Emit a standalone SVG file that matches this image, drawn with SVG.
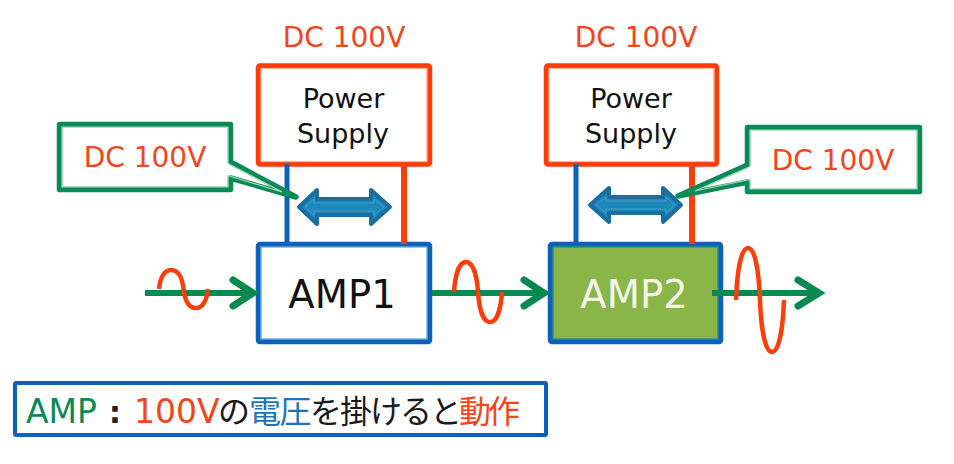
<svg xmlns="http://www.w3.org/2000/svg" width="954" height="464" viewBox="0 0 954 464">
<style>
text{font-family:"DejaVu Sans","Noto Sans CJK JP",sans-serif;text-anchor:middle}
.bx{stroke-width:5.500;stroke-linejoin:round}
.in{fill:none;stroke-width:1.200}
.r{stroke:#fb3d0a;fill:#fff}
.b{stroke:#0b62b8;fill:#fff}
.g{stroke:#0a8a55;fill:#fff}
.rt{fill:#f4441a;font-size:28px}
.pt{fill:#111;font-size:27px}
.at{font-size:38.500px}
.wave{fill:none;stroke:#fb3d0a;stroke-width:4.500}
.arr{fill:none;stroke:#08894f;stroke-width:6}
.head{fill:none;stroke:#08894f;stroke-width:7;stroke-linecap:round;stroke-linejoin:miter}
.dbl{fill:#1c87bb;stroke:#1a6e9f;stroke-width:4;stroke-linejoin:round}
.dbi{fill:none;stroke:#5aa6cf;stroke-width:1;opacity:.7}
.bt{font-size:33px;text-anchor:start}
.cj{font-size:32px}
</style>
<rect width="954" height="464" fill="#fefefe"/>
<g id="ps1"><rect class="bx r" x="258.500" y="66" width="171" height="98" rx="1.500"/><rect class="in" stroke="#ffb9a3" x="261" y="68.500" width="166" height="93"/>
<text class="pt" x="343.500" y="108">Power</text><text class="pt" x="343" y="143">Supply</text></g>
<g id="ps2"><rect class="bx r" x="546.500" y="66" width="170" height="98" rx="1.500"/><rect class="in" stroke="#ffb9a3" x="549" y="68.500" width="165" height="93"/>
<text class="pt" x="631" y="108">Power</text><text class="pt" x="631" y="143">Supply</text></g>
<g id="amp1"><rect class="bx b" x="258.500" y="244.500" width="171" height="97" rx="1.500"/><rect class="in" stroke="#7fb8e4" x="261" y="247" width="166" height="92"/>
<text class="at" x="342" y="308" fill="#111">AMP1</text></g>
<g id="amp2"><rect class="bx" stroke="#0b62b8" fill="#8ab548" x="550.500" y="244.500" width="170" height="97" rx="1.500"/><rect class="in" stroke="#2f9a86" x="553" y="247" width="165" height="92"/>
<text class="at" x="634" y="308" fill="#f3f7ea">AMP2</text></g>
<g id="connectors">
<path d="M287 164V243" fill="none" stroke="#0b62b8" stroke-width="5"/>
<path d="M404 165V244" fill="none" stroke="#fb3d0a" stroke-width="6"/>
<path d="M576 164V243" fill="none" stroke="#0b62b8" stroke-width="5"/>
<path d="M692 165V244" fill="none" stroke="#fb3d0a" stroke-width="6"/>
<path class="arr" d="M145 293H252"/><path class="head" d="M233 280L253 293L233 306"/>
<path class="arr" d="M432 293H544"/><path class="head" d="M524 280L544 293L524 306"/>
<path class="arr" d="M712 293H818"/><path class="head" d="M798 280L819 293L798 306"/>
</g>
<g id="waves">
<path class="wave" d="M159 289C160.200 277.600 164.500 270 171.200 270C178 270 182.300 277.600 183.500 289C184.700 300.400 189 308 195.800 308C202.600 308 206.800 300.400 208 289"/>
<path class="wave" d="M454 292C455.200 274 459.400 262 466 262C472.600 262 476.800 274 478 292C479.200 310 483.400 322 490 322C496.600 322 500.800 310 502 292"/>
<path class="wave" d="M736 300C737.200 268.800 741.400 248 748 248C754.600 248 758.800 268.800 760 300C761.200 331.200 765.400 352 772 352C778.600 352 782.800 331.200 784 300"/>
</g>
<g id="double-arrow1"><path class="dbl" d="M299 207L317 190V199H371V190L390 207L371 224V215H317V224Z"/><path class="dbi" d="M305 207L314 199V203H374V199L384 207L374 215V211H314V215Z"/></g>
<g id="double-arrow2"><path class="dbl" d="M590 205L609 188V197H663V188L681 205L663 222V213H609V222Z"/><path class="dbi" d="M596 205L606 197V201H666V197L675 205L666 213V209H606V213Z"/></g>
<g id="callout1"><path class="bx g" d="M59.500 124.500H230.500V162L296 197L230.500 178V189.500H59.500Z"/><path class="in" stroke="#a8dcc0" d="M62 127H228V163.500L282 192L228 175.500V187H62Z"/>
<text class="rt" x="145" y="167">DC 100V</text></g>
<g id="callout2"><path class="bx g" d="M919.500 127.500H747.500V165L678 196L747.500 182V191.500H919.500Z"/><path class="in" stroke="#a8dcc0" d="M917 130H750V166.500L695 191L750 179.500V189H917Z"/>
<text class="rt" x="833" y="170">DC 100V</text></g>
<g id="label1"><text class="rt" x="344" y="47">DC 100V</text></g>
<g id="label2"><text class="rt" x="636" y="47">DC 100V</text></g>
<g id="note"><rect x="15" y="383" width="531" height="52" rx="1" fill="#fff" stroke="#0b62b8" stroke-width="4"/>
<text class="bt" x="26" y="423" fill="#0a8a55">AMP</text>
<text x="115" y="423" font-size="31" font-weight="bold" fill="#222">:</text>
<text class="bt" x="134" y="423" fill="#f4441a">100V</text>
<text class="cj" y="423" fill="#1a1a1a"><tspan x="234">の</tspan><tspan x="265" fill="#1f74b8">電</tspan><tspan x="295.500" fill="#1f74b8">圧</tspan><tspan x="326">を</tspan><tspan x="356">掛</tspan><tspan x="386">け</tspan><tspan x="416">る</tspan><tspan x="446">と</tspan><tspan x="475" fill="#f4441a">動</tspan><tspan x="504" fill="#f4441a">作</tspan></text>
</g>
</svg>
